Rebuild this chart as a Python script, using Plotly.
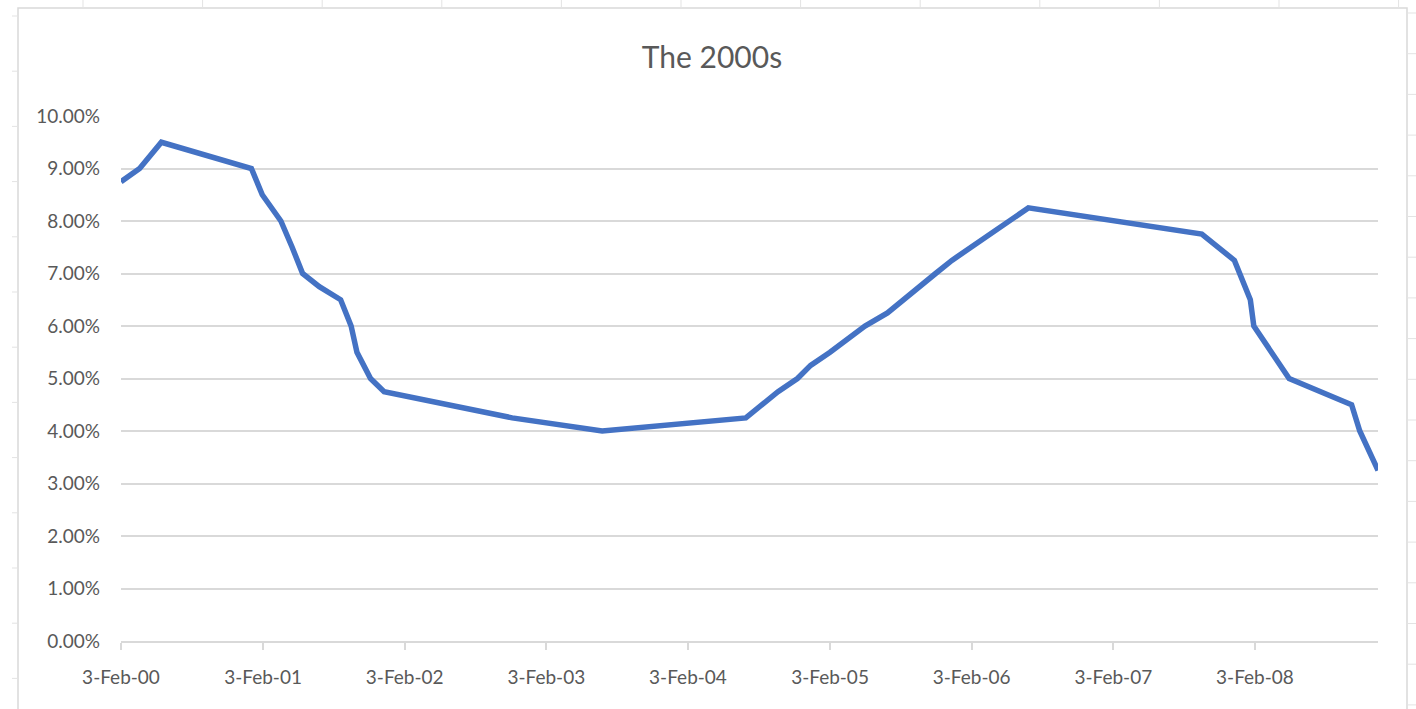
import plotly.graph_objects as go

# Data (rate change dates and rate in %)
dates = ["2000-02-03", "2000-03-22", "2000-05-17", "2001-01-04", "2001-02-01",
         "2001-03-21", "2001-04-19", "2001-05-16", "2001-06-28", "2001-08-22",
         "2001-09-18", "2001-10-03", "2001-11-07", "2001-12-12", "2002-11-07",
         "2003-06-27", "2004-07-01", "2004-08-11", "2004-09-22", "2004-11-11",
         "2004-12-15", "2005-02-03", "2005-03-23", "2005-05-04", "2005-07-01",
         "2005-08-10", "2005-09-21", "2005-11-02", "2005-12-14", "2006-02-01",
         "2006-03-28", "2006-05-11", "2006-06-29", "2007-09-19", "2007-11-01",
         "2007-12-12", "2008-01-22", "2008-01-31", "2008-05-01", "2008-10-09",
         "2008-10-30", "2008-12-16"]
rates = [8.75, 9.00, 9.50, 9.00, 8.50,
         8.00, 7.50, 7.00, 6.75, 6.50,
         6.00, 5.50, 5.00, 4.75, 4.25,
         4.00, 4.25, 4.50, 4.75, 5.00,
         5.25, 5.50, 5.75, 6.00, 6.25,
         6.50, 6.75, 7.00, 7.25, 7.50,
         7.75, 8.00, 8.25, 7.75, 7.50,
         7.25, 6.50, 6.00, 5.00, 4.50,
         4.00, 3.25]

x_tick_vals = ["2000-02-03", "2001-02-03", "2002-02-03", "2003-02-03", "2004-02-03",
               "2005-02-03", "2006-02-03", "2007-02-03", "2008-02-03"]
x_tick_text = ["3-Feb-00", "3-Feb-01", "3-Feb-02", "3-Feb-03", "3-Feb-04",
               "3-Feb-05", "3-Feb-06", "3-Feb-07", "3-Feb-08"]
y_tick_vals = [0, 1, 2, 3, 4, 5, 6, 7, 8, 9, 10]
y_tick_text = ["0.00%", "1.00%", "2.00%", "3.00%", "4.00%", "5.00%",
               "6.00%", "7.00%", "8.00%", "9.00%", "10.00%"]

title_text = "The 2000s"

W, H = 1416, 709
ML, MR, MT, MB = 121, 38, 116, 68

fig = go.Figure()
fig.add_trace(go.Scatter(
    x=dates, y=rates, mode="lines",
    line=dict(color="#4472C4", width=5.5),
    hoverinfo="x+y", showlegend=False,
))

FONT = "Lato, 'Open Sans', sans-serif"
GRID = "#d9d9d9"

# Decorative spreadsheet background (cell lines and chart border), in paper coordinates
pw, ph = W - ML - MR, H - MT - MB


def px_to_paper_x(px):
    return (px - ML) / pw


def px_to_paper_y(py):
    return 1 - (py - MT) / ph


shapes = []
cell_line = dict(color="#e3e3e3", width=1)
# chart border
shapes.append(dict(type="rect", xref="paper", yref="paper",
                   x0=px_to_paper_x(18), x1=px_to_paper_x(1407),
                   y0=px_to_paper_y(720), y1=px_to_paper_y(8),
                   line=dict(color="#d9d9d9", width=1.5), layer="below"))
# top strip vertical cell lines
for k in range(12):
    xv = 83 + 119.6 * k
    shapes.append(dict(type="line", xref="paper", yref="paper",
                       x0=px_to_paper_x(xv), x1=px_to_paper_x(xv),
                       y0=px_to_paper_y(0), y1=px_to_paper_y(8),
                       line=cell_line, layer="below"))
# left strip horizontal cell lines
for k in range(13):
    yv = 16 + 55.2 * k
    shapes.append(dict(type="line", xref="paper", yref="paper",
                       x0=px_to_paper_x(12), x1=px_to_paper_x(18),
                       y0=px_to_paper_y(yv), y1=px_to_paper_y(yv),
                       line=cell_line, layer="below"))
# right strip horizontal cell lines
for k in range(18):
    yv = 13 + 40.7 * k
    shapes.append(dict(type="line", xref="paper", yref="paper",
                       x0=px_to_paper_x(1407), x1=px_to_paper_x(1416),
                       y0=px_to_paper_y(yv), y1=px_to_paper_y(yv),
                       line=cell_line, layer="below"))

fig.update_layout(
    width=W, height=H,
    margin=dict(l=ML, r=MR, t=MT, b=MB),
    paper_bgcolor="white", plot_bgcolor="white",
    font=dict(family=FONT, color="#595959", size=19),
    title=dict(text=title_text, x=712 / W, xanchor="center", xref="container",
               y=1 - 57 / H, yref="container", yanchor="middle",
               font=dict(family=FONT, size=30, color="#595959")),
    shapes=shapes,
    xaxis=dict(
        type="date",
        range=[dates[0], dates[-1]],
        tickvals=x_tick_vals, ticktext=x_tick_text,
        showgrid=False, zeroline=False,
        showline=True, linecolor=GRID, linewidth=1.5,
        ticks="outside", ticklen=7, tickcolor=GRID, tickwidth=1.5,
        ticklabelstandoff=11,
        tickfont=dict(family=FONT, size=19, color="#595959"),
    ),
    yaxis=dict(
        range=[0, 10],
        tickvals=y_tick_vals, ticktext=y_tick_text,
        showgrid=True, gridcolor=GRID, gridwidth=1.5,
        zeroline=False, showline=False, ticks="",
        ticklabelstandoff=20,
        tickfont=dict(family=FONT, size=19, color="#595959"),
    ),
)

fig.write_html(
    "out.html",
    config={"displayModeBar": False},
    post_script="document.body.style.margin='0';document.body.style.overflow='hidden';",
)
